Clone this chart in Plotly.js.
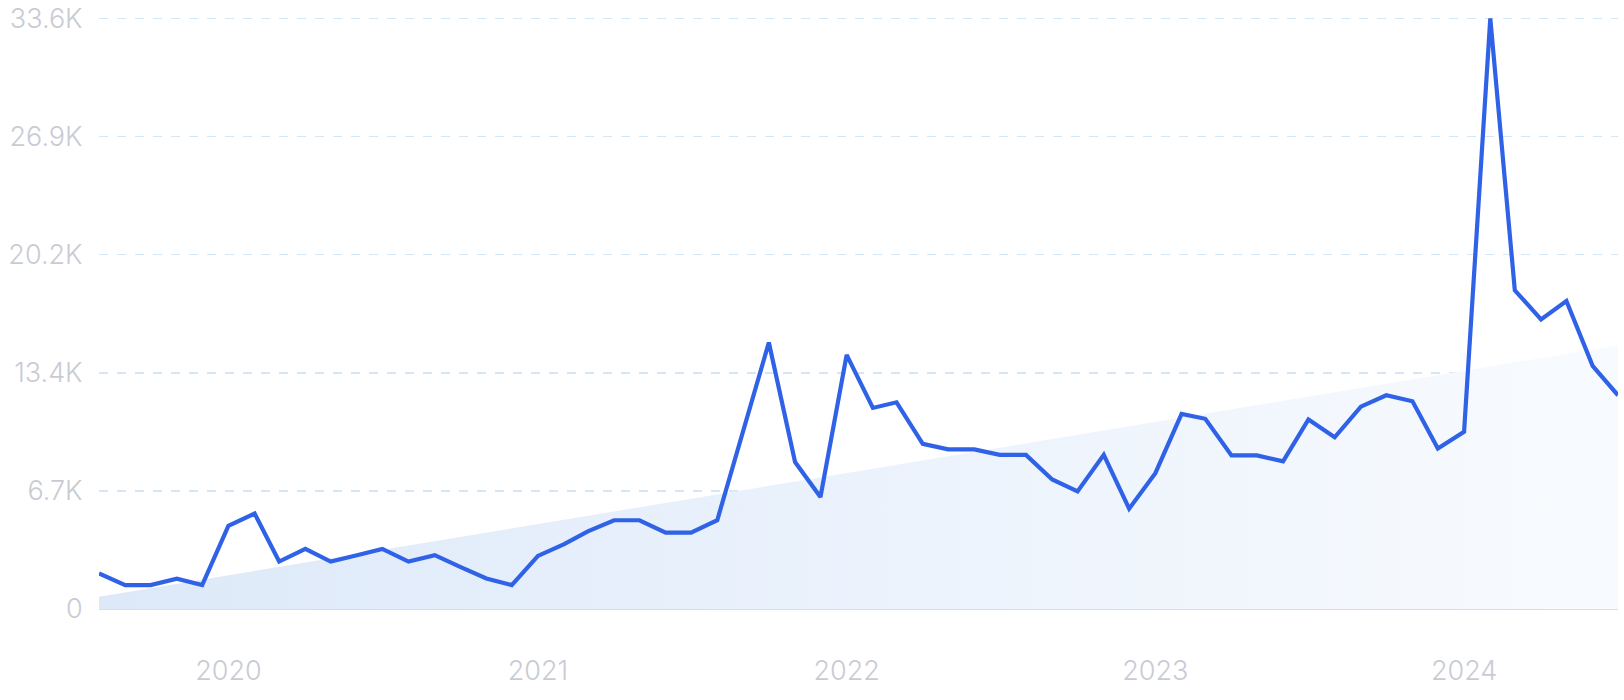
<!DOCTYPE html>
<html>
<head>
<meta charset="utf-8">
<script src="https://cdn.plot.ly/plotly-3.0.1.min.js"></script>
<style>
  html, body { margin: 0; padding: 0; background: #ffffff; }
  #chart { width: 1624px; height: 700px; }
</style>
</head>
<body>
<div id="chart"></div>
<script>
// ---- data ----
const months = [
  '2019-08-01','2019-09-01','2019-10-01','2019-11-01','2019-12-01',
  '2020-01-01','2020-02-01','2020-03-01','2020-04-01','2020-05-01','2020-06-01',
  '2020-07-01','2020-08-01','2020-09-01','2020-10-01','2020-11-01','2020-12-01',
  '2021-01-01','2021-02-01','2021-03-01','2021-04-01','2021-05-01','2021-06-01',
  '2021-07-01','2021-08-01','2021-09-01','2021-10-01','2021-11-01','2021-12-01',
  '2022-01-01','2022-02-01','2022-03-01','2022-04-01','2022-05-01','2022-06-01',
  '2022-07-01','2022-08-01','2022-09-01','2022-10-01','2022-11-01','2022-12-01',
  '2023-01-01','2023-02-01','2023-03-01','2023-04-01','2023-05-01','2023-06-01',
  '2023-07-01','2023-08-01','2023-09-01','2023-10-01','2023-11-01','2023-12-01',
  '2024-01-01','2024-02-01','2024-03-01','2024-04-01','2024-05-01','2024-06-01',
  '2024-07-01'
];
const searches = [
  2020, 1360, 1360, 1720, 1360,
  4730, 5430, 2700, 3420, 2700, 3060, 3420, 2700, 3060, 2400, 1740, 1360,
  3020, 3690, 4420, 5050, 5050, 4350, 4350, 5050, 10250, 15160, 8360, 6370,
  14460, 11440, 11760, 9400, 9080, 9080, 8770, 8770, 7370, 6690, 8770, 5710,
  7730, 11100, 10820, 8740, 8740, 8400, 10780, 9770, 11510, 12160, 11820, 9130,
  10080, 33600, 18130, 16480, 17520, 13830, 12160
];
const trendStart = 700;
const trendEnd = 15000;
const yTickVals = [0, 6720, 13440, 20160, 26880, 33600];
const yTickText = ['0', '6.7K', '13.4K', '20.2K', '26.9K', '33.6K'];
const xTickVals = ['2020-01-01', '2021-01-01', '2022-01-01', '2023-01-01', '2024-01-01'];
const xTickText = ['2020', '2021', '2022', '2023', '2024'];

// ---- traces ----
const trend = {
  x: [months[0], months[months.length - 1]],
  y: [trendStart, trendEnd],
  type: 'scatter',
  mode: 'lines',
  line: { width: 0, color: 'rgba(0,0,0,0)' },
  fill: 'tozeroy',
  fillgradient: {
    type: 'horizontal',
    colorscale: [[0, '#dde9f9'], [0.5, '#ebf2fc'], [1, '#f8fbfe']]
  },
  hoverinfo: 'skip',
  showlegend: false
};

const line = {
  x: months,
  y: searches,
  type: 'scatter',
  mode: 'lines',
  line: { color: '#2f62e6', width: 4.2, shape: 'linear' },
  showlegend: false
};

const labelFont = { family: 'Inter, "Open Sans", sans-serif', size: 27, color: '#c9cbd4', weight: 300 };

const layout = {
  width: 1624,
  height: 700,
  margin: { l: 99, r: 6, t: 17, b: 91 },
  paper_bgcolor: '#ffffff',
  plot_bgcolor: '#ffffff',
  showlegend: false,
  xaxis: {
    type: 'date',
    range: [months[0], months[months.length - 1]],
    tickmode: 'array',
    tickvals: xTickVals,
    ticktext: xTickText,
    ticks: 'outside',
    ticklen: 38,
    tickcolor: 'rgba(0,0,0,0)',
    tickfont: labelFont,
    showgrid: false,
    zeroline: false,
    showline: false,
    fixedrange: true
  },
  yaxis: {
    range: [0, 33680],
    tickmode: 'array',
    tickvals: yTickVals,
    ticktext: yTickText,
    ticks: 'outside',
    ticklen: 10,
    tickcolor: 'rgba(0,0,0,0)',
    tickfont: labelFont,
    showgrid: true,
    gridcolor: '#d5e7f7',
    gridwidth: 1.5,
    griddash: '9px,9px',
    zeroline: true,
    zerolinecolor: '#c9e2f6',
    zerolinewidth: 1.5,
    showline: false,
    fixedrange: true
  }
};

Plotly.newPlot('chart', [trend, line], layout, { displayModeBar: false, staticPlot: true });
</script>
</body>
</html>
